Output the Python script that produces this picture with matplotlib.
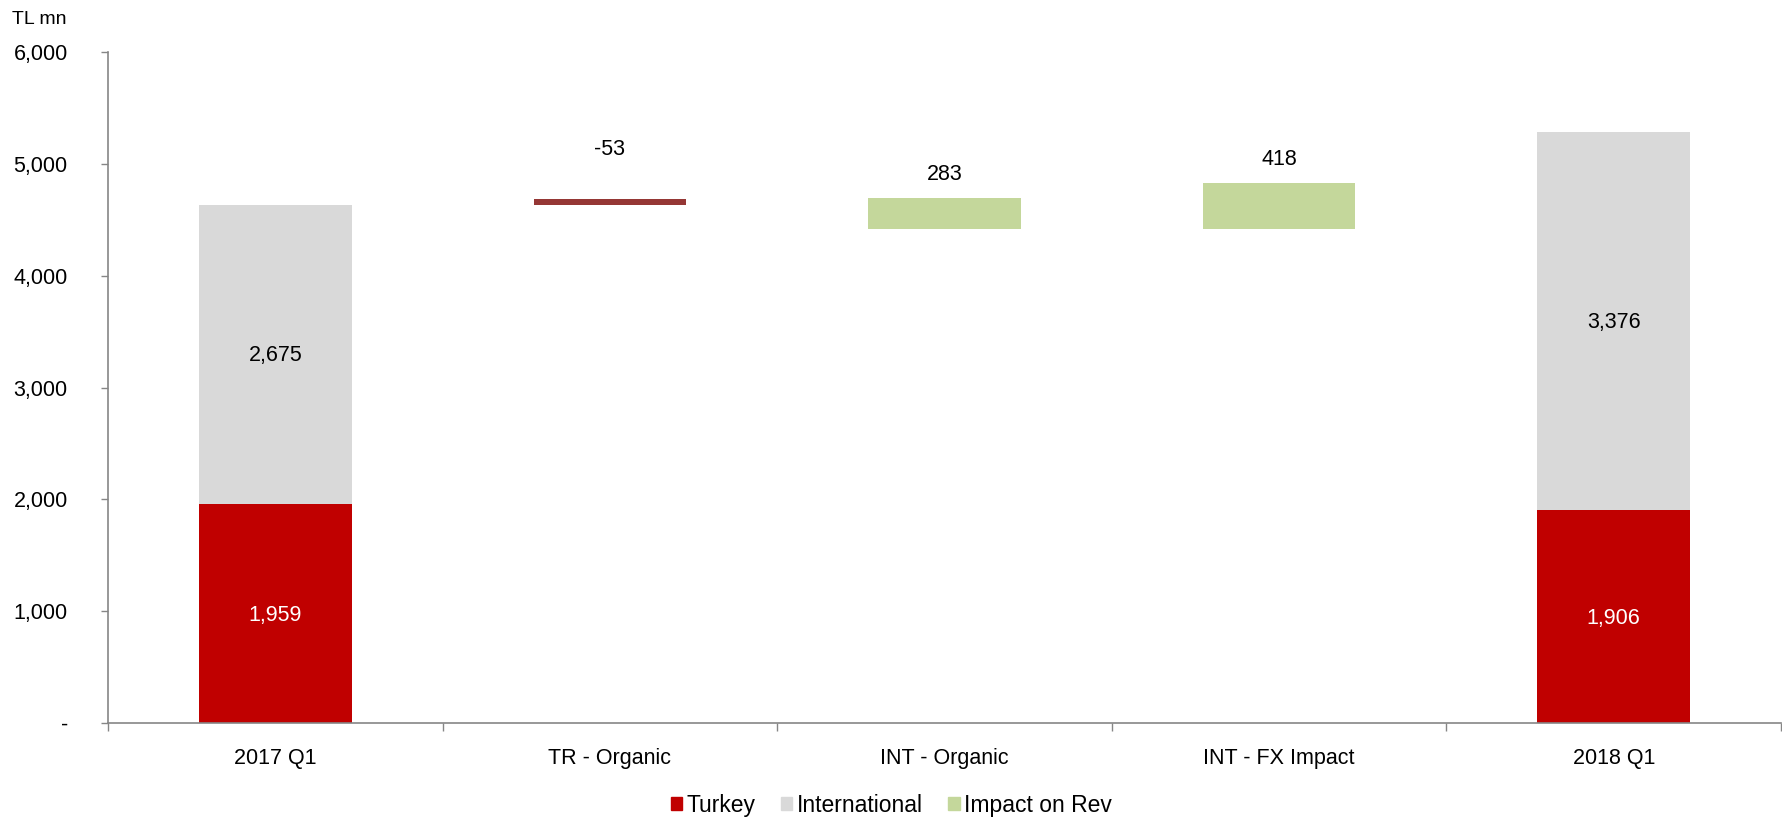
import numpy as np
import matplotlib.pyplot as plt
from matplotlib.patches import Patch

plt.rcParams['font.family'] = ['Liberation Sans', 'DejaVu Sans']

categories = ["2017 Q1", "TR - Organic", "INT - Organic", "INT - FX Impact", "2018 Q1"]

# stacked totals
turkey = [1959, 0, 0, 0, 1906]
international = [2675, 0, 0, 0, 3376]

# bridge steps (as drawn: floating base + height)
step_base = [0, 4634, 4413, 4413, 0]
step_value = [0, -53, 283, 418, 0]
step_color = [None, "#953735", "#C4D79B", "#C4D79B", None]
label_offset = [0, 440, 212, 209, 0]

red = "#C00000"
grey = "#D9D9D9"
green = "#C4D79B"
axis_col = "#868686"

fig = plt.figure(figsize=(17.83, 8.19), dpi=100)
ax = fig.add_axes([0.0606, 0.1172, 0.9383, 0.8193])

x = np.arange(len(categories))
w = 0.456

ax.bar(x, turkey, w, color=red, zorder=2)
ax.bar(x, international, w, bottom=turkey, color=grey, zorder=2)

for i in range(len(categories)):
    if step_value[i] == 0:
        continue
    h = abs(step_value[i])
    ax.bar(x[i], h, w, bottom=step_base[i], color=step_color[i], zorder=2)
    top = step_base[i] + h
    ax.text(x[i], top + label_offset[i], f"{step_value[i]:,}", ha="center", va="center",
            fontsize=15.5, color="black")

for i in range(len(categories)):
    if turkey[i] > 0:
        ax.text(x[i], turkey[i] / 2 - 20, f"{turkey[i]:,}", ha="center", va="center",
                fontsize=15.5, color="white")
    if international[i] > 0:
        ax.text(x[i], turkey[i] + international[i] / 2 - 12, f"{international[i]:,}",
                ha="center", va="center", fontsize=15.5, color="black")

ax.set_xlim(-0.5, len(categories) - 0.5)
ax.set_ylim(0, 6000)
ax.set_yticks(np.arange(0, 6001, 1000))
ax.set_yticklabels(["-"] + [f"{v:,}" for v in range(1000, 6001, 1000)])
ax.set_xticks(x)
ax.set_xticklabels(categories)
ax.set_xticks(np.arange(-0.5, len(categories), 1.0), minor=True)

ax.tick_params(axis="y", length=5, width=1, color=axis_col, labelsize=15.5, pad=24)
ax.tick_params(axis="x", which="major", length=0, labelsize=15.5, pad=18)
ax.tick_params(axis="x", which="minor", length=6, width=1, color=axis_col)

for s in ["top", "right"]:
    ax.spines[s].set_visible(False)
for s in ["left", "bottom"]:
    ax.spines[s].set_color(axis_col)
    ax.spines[s].set_linewidth(1.2)

fig.text(0.0067, 0.976, "TL mn", fontsize=14, ha="left", va="center")

handles = [Patch(color=red, label="Turkey"),
           Patch(color=grey, label="International"),
           Patch(color=green, label="Impact on Rev")]
fig.legend(handles=handles, loc="center", bbox_to_anchor=(0.500, 0.017), ncol=3,
           frameon=False, fontsize=16.5, handlelength=0.5, handleheight=0.5,
           handletextpad=0.2, columnspacing=1.1)

fig.savefig("out.png", dpi=100)
